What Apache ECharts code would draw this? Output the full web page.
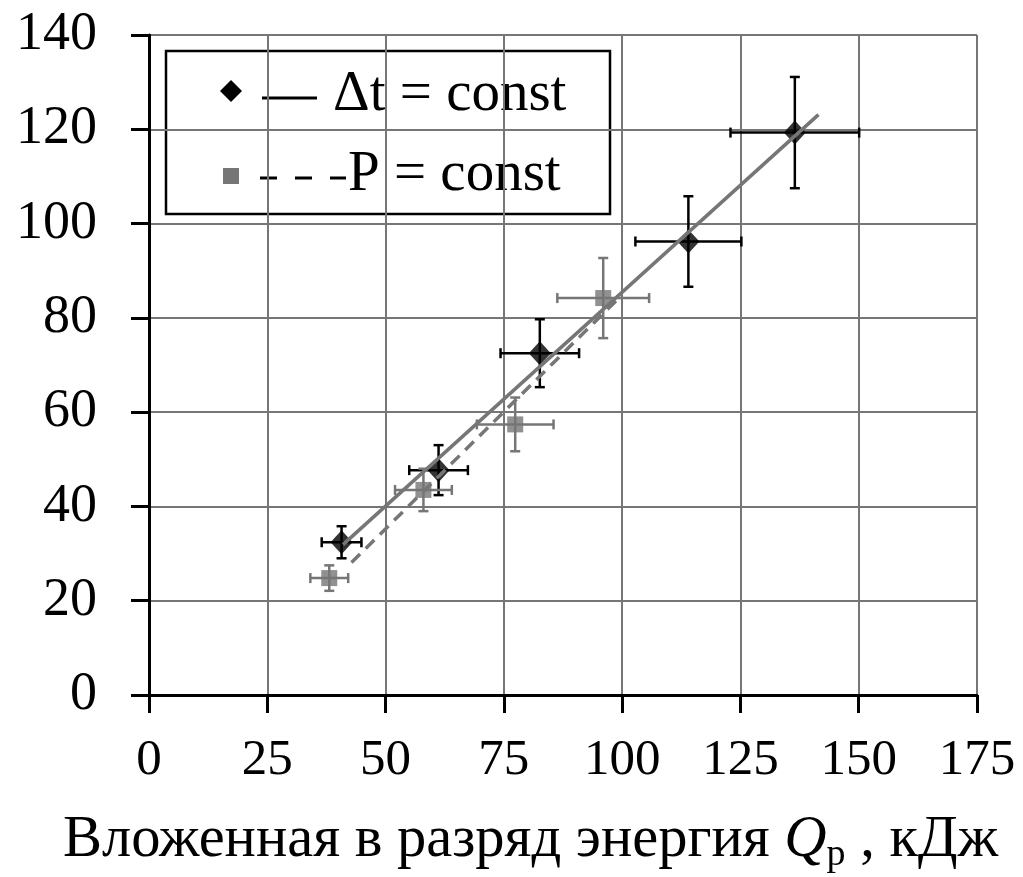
<!DOCTYPE html>
<html>
<head>
<meta charset="utf-8">
<script src="https://cdn.jsdelivr.net/npm/echarts@6/dist/echarts.min.js"></script>
<style>
  html, body { margin: 0; padding: 0; background: #fff; }
  #chart { width: 1023px; height: 877px; }
</style>
</head>
<body>
<div id="chart"></div>
<script>
// Energy deposited in discharge (kJ) vs. response, two regimes
const xTicks = [0, 25, 50, 75, 100, 125, 150, 175];
const yTicks = [0, 20, 40, 60, 80, 100, 120, 140];

// Δt = const regime: energy, value, energy error, value error
const dtEnergy = [40.7, 61.2, 82.6, 114.0, 136.5];
const dtValue  = [32.4, 47.7, 72.5, 96.2, 119.3];
const dtErrX   = [4.2, 6.2, 8.3, 11.2, 13.6];
const dtErrY   = [3.4, 5.3, 7.2, 9.6, 11.8];

// P = const regime
const pEnergy = [38.1, 58.0, 77.4, 96.0];
const pValue  = [24.8, 43.5, 57.4, 84.2];
const pErrX   = [4.0, 6.0, 8.1, 9.7];
const pErrY   = [2.7, 4.5, 5.7, 8.5];

// Linear trend line end points
const dtTrend = [[41.0, 31.9], [141.5, 123.1]];
const pTrend  = [[42.8, 28.1], [99.0, 83.9]];

const FONT = '"Liberation Serif", "DejaVu Serif", serif';
const GRAY = '#767676';

function zip(xs, ys) { return xs.map((x, i) => [x, ys[i]]); }
function errRows(xs, ys, ex, ey) { return xs.map((x, i) => [x, ys[i], ex[i], ey[i]]); }

function errorBars(color) {
  return function (params, api) {
    const x = api.value(0), y = api.value(1), ex = api.value(2), ey = api.value(3);
    const l = api.coord([x - ex, y]), r = api.coord([x + ex, y]);
    const t = api.coord([x, y + ey]), b = api.coord([x, y - ey]);
    const c = 5;
    const style = { stroke: color, lineWidth: 2.5 };
    const seg = (x1, y1, x2, y2) => ({ type: 'line', shape: { x1, y1, x2, y2 }, style });
    return {
      type: 'group',
      children: [
        seg(l[0], l[1], r[0], r[1]),
        seg(l[0], l[1] - c, l[0], l[1] + c),
        seg(r[0], r[1] - c, r[0], r[1] + c),
        seg(t[0], t[1], b[0], b[1]),
        seg(t[0] - c, t[1], t[0] + c, t[1]),
        seg(b[0] - c, b[1], b[0] + c, b[1])
      ]
    };
  };
}

const chart = echarts.init(document.getElementById('chart'), null, { renderer: 'canvas' });

const axisCommon = {
  type: 'value',
  axisLine: { show: true, onZero: false, lineStyle: { color: '#000', width: 3 } },
  axisTick: { show: true, inside: false, length: 18, lineStyle: { color: '#000', width: 3 } },
  splitLine: { show: true, lineStyle: { color: GRAY, width: 2 } }
};

const legendText = {
  fontFamily: FONT, fontSize: 57, fontWeight: 'normal', fill: '#000', verticalAlign: 'middle'
};

chart.setOption({
  animation: false,
  backgroundColor: '#fff',
  grid: { left: 149, right: 46, top: 35, bottom: 182, containLabel: false },
  title: {
    left: 58, top: 803,
    text: '{a|Вложенная в разряд энергия }{i|Q}{s|р}{a| , кДж}',
    textStyle: {
      fontWeight: 'normal',
      rich: {
        a: { fontFamily: FONT, fontSize: 58.5, fontWeight: 'normal', color: '#000' },
        i: { fontFamily: FONT, fontSize: 58.5, fontStyle: 'italic', fontWeight: 'normal', color: '#000' },
        s: { fontFamily: FONT, fontSize: 38, fontWeight: 'normal', color: '#000', verticalAlign: 'bottom', padding: [28, 0, 0, 0] }
      }
    }
  },
  xAxis: Object.assign({}, axisCommon, {
    min: 0, max: 175, interval: 25,
    axisLabel: {
      margin: 40, fontFamily: FONT, fontSize: 51, color: '#000',
      formatter: v => xTicks.includes(v) ? String(v) : ''
    }
  }),
  yAxis: Object.assign({}, axisCommon, {
    min: 0, max: 140, interval: 20,
    axisLabel: {
      margin: 52, fontFamily: FONT, fontSize: 54, color: '#000',
      formatter: v => yTicks.includes(v) ? String(v) : ''
    }
  }),
  series: [
    {
      type: 'custom', name: 'dtErr', z: 3,
      renderItem: errorBars('#000'),
      data: errRows(dtEnergy, dtValue, dtErrX, dtErrY)
    },
    {
      type: 'custom', name: 'pErr', z: 3,
      renderItem: errorBars(GRAY),
      data: errRows(pEnergy, pValue, pErrX, pErrY)
    },
    {
      type: 'scatter', name: 'Δt = const', z: 4,
      symbol: 'diamond', symbolSize: [22, 24],
      itemStyle: { color: '#000' },
      data: zip(dtEnergy, dtValue)
    },
    {
      type: 'scatter', name: 'P = const', z: 4,
      symbol: 'rect', symbolSize: 16,
      itemStyle: { color: GRAY },
      data: zip(pEnergy, pValue)
    },
    {
      type: 'line', name: 'dtTrend', z: 5, symbol: 'none',
      lineStyle: { color: GRAY, width: 3.5 },
      data: dtTrend
    },
    {
      type: 'line', name: 'pTrend', z: 5, symbol: 'none',
      lineStyle: { color: GRAY, width: 3.5, type: [12, 8] },
      data: pTrend
    }
  ],
  graphic: [
    {
      type: 'group', z: 100,
      children: [
        { type: 'rect', shape: { x: 166, y: 51, width: 444, height: 163 },
          style: { fill: '#fff', stroke: '#000', lineWidth: 2.5 } },
        { type: 'polygon', shape: { points: [[231, 80], [242, 91], [231, 102], [220, 91]] },
          style: { fill: '#000' } },
        { type: 'line', shape: { x1: 262, y1: 98, x2: 317, y2: 98 },
          style: { stroke: '#000', lineWidth: 3 } },
        { type: 'text', x: 333, y: 95,
          style: Object.assign({ text: 'Δt = const' }, legendText) },
        { type: 'rect', shape: { x: 223, y: 168, width: 16, height: 16 },
          style: { fill: GRAY } },
        { type: 'line', shape: { x1: 260, y1: 178, x2: 346, y2: 178 },
          style: { stroke: '#000', lineWidth: 3, lineDash: [17, 18] } },
        { type: 'text', x: 348, y: 175,
          style: Object.assign({ text: 'P = const' }, legendText) }
      ]
    }
  ]
});
</script>
</body>
</html>
